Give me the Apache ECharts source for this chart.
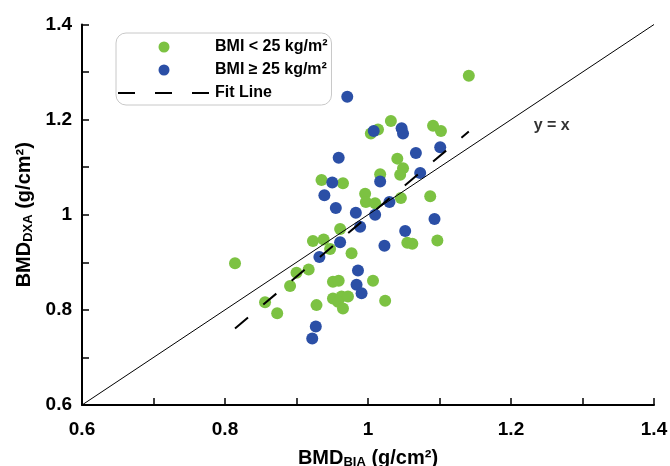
<!DOCTYPE html>
<html>
<head>
<meta charset="utf-8">
<script src="https://cdn.jsdelivr.net/npm/echarts@6/dist/echarts.min.js"></script>
<style>
  html, body { margin: 0; padding: 0; background: #fff; }
  #main { width: 670px; height: 466px; }
</style>
</head>
<body>
<div id="main"></div>
<script>
// BMI < 25 group (BIA, DXA)
var lowBmiX = [1.141, 1.032, 1.014, 1.004, 1.091, 1.102, 1.041, 1.049, 1.045, 1.017,
               0.935, 0.965, 0.996, 0.997, 1.010, 1.046, 1.087, 0.961, 0.923, 0.938,
               0.947, 0.977, 1.055, 1.062, 1.097, 0.917, 0.900, 0.891, 0.951, 0.959,
               1.007, 0.951, 0.963, 0.972, 0.958, 0.965, 0.928, 1.024, 0.856, 0.873,
               0.814];
var lowBmiY = [1.292, 1.197, 1.179, 1.171, 1.187, 1.176, 1.118, 1.098, 1.084, 1.085,
               1.073, 1.066, 1.044, 1.027, 1.024, 1.035, 1.039, 0.970, 0.945, 0.948,
               0.928, 0.919, 0.941, 0.939, 0.946, 0.885, 0.878, 0.850, 0.859, 0.861,
               0.861, 0.824, 0.828, 0.828, 0.817, 0.803, 0.810, 0.819, 0.816, 0.793,
               0.898];

// BMI >= 25 group
var highBmiX = [0.971, 1.008, 1.047, 1.049, 1.101, 1.067, 0.959, 0.950, 1.017, 1.073,
                0.939, 0.955, 1.030, 0.983, 1.010, 0.989, 1.093, 1.052, 0.961, 0.932,
                1.023, 0.986, 0.984, 0.991, 0.927, 0.922];
var highBmiY = [1.248, 1.176, 1.182, 1.171, 1.142, 1.130, 1.120, 1.068, 1.070, 1.088,
                1.041, 1.014, 1.027, 1.004, 1.000, 0.975, 0.991, 0.966, 0.942, 0.911,
                0.935, 0.883, 0.853, 0.835, 0.765, 0.740];

// regression line end points and identity line
var fitX = [0.814, 1.141];
var fitY = [0.761, 1.175];
var identX = [0.6, 1.4];
var identY = [0.6, 1.4];
var identLabel = [1.257, 1.188];

var tickLabels = ['0.6', '0.8', '1', '1.2', '1.4'];

function pairs(xs, ys) {
  var out = [];
  for (var i = 0; i < xs.length; i++) out.push([xs[i], ys[i]]);
  return out;
}

function tickFmt(v) {
  var s = String(+v.toFixed(1));
  return tickLabels.indexOf(s) >= 0 ? s : '';
}

var font = 'Liberation Sans, Arial, sans-serif';
var nameRich = {
  a: { fontSize: 20, fontWeight: 'bold', fontFamily: font, color: '#000' },
  s: { fontSize: 13, fontWeight: 'bold', fontFamily: font, color: '#000', verticalAlign: 'bottom', padding: [8, 0, 0, 0] }
};

var myChart = echarts.init(document.getElementById('main'));

var option = {
  animation: false,
  grid: { left: 82, right: 16, top: 24.5, bottom: 61, containLabel: false, outerBoundsMode: 'none' },
  legend: {
    left: 116, top: 33,
    orient: 'vertical',
    itemWidth: 92, itemHeight: 11, itemGap: 7,
    padding: [6, 4, 4, 1],
    borderColor: '#c8c8c8', borderWidth: 1, borderRadius: 10,
    textStyle: { fontSize: 16, fontWeight: 'bold', fontFamily: font, color: '#000' },
    data: ['BMI < 25 kg/m²', 'BMI ≥ 25 kg/m²', 'Fit Line']
  },
  xAxis: {
    type: 'value', min: 0.6, max: 1.4, interval: 0.1,
    name: '{a|BMD}{s|BIA}{a| (g/cm²)}',
    nameLocation: 'middle', nameGap: 43,
    nameTextStyle: { rich: nameRich },
    axisLine: { lineStyle: { color: '#000', width: 2 } },
    axisTick: { inside: true, length: 7, lineStyle: { color: '#000', width: 1.5 } },
    axisLabel: { formatter: tickFmt, margin: 15, fontSize: 19, fontWeight: 'bold', fontFamily: font, color: '#000' },
    splitLine: { show: false }
  },
  yAxis: {
    type: 'value', min: 0.6, max: 1.4, interval: 0.1,
    name: '{a|BMD}{s|DXA}{a| (g/cm²)}',
    nameLocation: 'middle', nameGap: 46,
    nameTextStyle: { rich: nameRich },
    axisLine: { lineStyle: { color: '#000', width: 2 } },
    axisTick: { inside: true, length: 7, lineStyle: { color: '#000', width: 1.5 } },
    axisLabel: { formatter: tickFmt, margin: 10, fontSize: 19, fontWeight: 'bold', fontFamily: font, color: '#000' },
    splitLine: { show: false }
  },
  series: [
    {
      name: 'BMI < 25 kg/m²', type: 'scatter', symbolSize: 12, z: 2,
      itemStyle: { color: '#7cc242', opacity: 1 },
      data: pairs(lowBmiX, lowBmiY)
    },
    {
      name: 'BMI ≥ 25 kg/m²', type: 'scatter', symbolSize: 12, z: 3,
      itemStyle: { color: '#2b4fa6', opacity: 1 },
      data: pairs(highBmiX, highBmiY)
    },
    {
      // transparent item colour keeps the legend icon a plain dashed line
      name: 'Fit Line', type: 'line', symbol: 'none', z: 5,
      itemStyle: { color: 'rgba(0,0,0,0)' },
      lineStyle: { color: '#000', width: 2, type: [17, 20] },
      data: pairs(fitX, fitY)
    },
    {
      name: 'identity', type: 'line', symbol: 'none', z: 4,
      lineStyle: { color: '#000', width: 1 },
      data: pairs(identX, identY)
    },
    {
      name: 'identity label', type: 'scatter', symbolSize: 0, z: 6,
      label: { show: true, position: 'inside', formatter: 'y = x', fontSize: 16, fontWeight: 'bold', fontFamily: font, color: '#000' },
      data: [identLabel]
    }
  ]
};

myChart.setOption(option);
</script>
</body>
</html>
